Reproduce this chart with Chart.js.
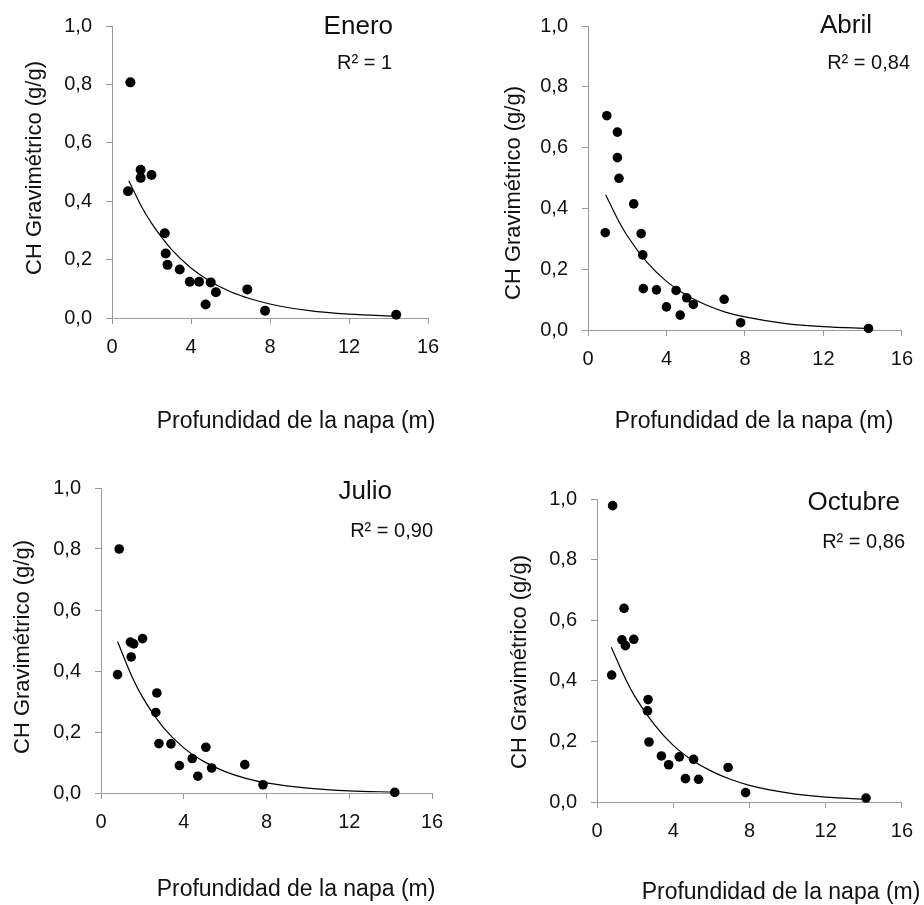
<!DOCTYPE html>
<html>
<head>
<meta charset="utf-8">
<script src="https://cdn.jsdelivr.net/npm/chart.js@4.4.0/dist/chart.umd.min.js"></script>
<style>
  body { margin: 0; background: #fff; width: 924px; height: 905px; position: relative; overflow: hidden; }
  canvas { position: absolute; }
</style>
</head>
<body>
<canvas id="enero" width="462" height="450" style="left:0;top:0"></canvas>
<canvas id="abril" width="462" height="450" style="left:462px;top:0"></canvas>
<canvas id="julio" width="462" height="455" style="left:0;top:450px"></canvas>
<canvas id="octubre" width="462" height="455" style="left:462px;top:450px"></canvas>
<script>
// profundidad de la napa (m) y CH gravimetrico (g/g)
const eneroProf = [0.93, 0.81, 1.45, 1.45, 2.0, 2.67, 2.72, 2.81, 3.43, 3.94, 4.41, 5.0, 5.26, 4.74, 6.85, 7.75, 14.39];
const eneroCH   = [0.807, 0.434, 0.508, 0.48, 0.49, 0.29, 0.221, 0.182, 0.166, 0.124, 0.124, 0.122, 0.088, 0.046, 0.098, 0.025, 0.011];

const abrilProf = [0.96, 1.5, 1.5, 1.58, 2.33, 0.88, 2.71, 2.79, 2.82, 3.49, 4.0, 4.49, 4.7, 5.03, 5.37, 6.94, 7.78, 14.3];
const abrilCH   = [0.705, 0.651, 0.567, 0.499, 0.415, 0.32, 0.317, 0.247, 0.136, 0.132, 0.076, 0.13, 0.049, 0.106, 0.084, 0.101, 0.024, 0.005];

const julioProf = [0.88, 0.8, 1.42, 1.58, 1.46, 2.01, 2.7, 2.65, 2.8, 3.38, 3.79, 4.41, 5.07, 4.68, 5.35, 6.95, 7.83, 14.2];
const julioCH   = [0.8, 0.388, 0.495, 0.489, 0.446, 0.506, 0.328, 0.264, 0.162, 0.161, 0.09, 0.113, 0.15, 0.055, 0.082, 0.093, 0.027, 0.002];

const octubreProf = [0.82, 0.77, 1.42, 1.31, 1.49, 1.93, 2.68, 2.65, 2.73, 3.38, 3.76, 4.32, 5.07, 4.64, 5.33, 6.88, 7.8, 14.12];
const octubreCH   = [0.978, 0.419, 0.639, 0.535, 0.516, 0.537, 0.338, 0.301, 0.198, 0.152, 0.123, 0.149, 0.141, 0.077, 0.075, 0.114, 0.031, 0.013];

// curvas de ajuste, leidas punto a punto
const eneroTrendX   = [0.85, 1.5, 2, 3, 4, 5, 6, 7, 8, 10, 12, 14.4];
const eneroTrendY   = [0.470, 0.381, 0.325, 0.236, 0.171, 0.124, 0.090, 0.066, 0.048, 0.025, 0.013, 0.006];
const abrilTrendX   = [0.9, 1.5, 2, 3, 4, 5, 6, 7, 8, 10, 12, 14.3];
const abrilTrendY   = [0.445, 0.366, 0.310, 0.223, 0.160, 0.115, 0.083, 0.059, 0.043, 0.022, 0.011, 0.005];
const julioTrendX   = [0.8, 1.5, 2, 3, 4, 5, 6, 7, 8, 10, 12, 14.2];
const julioTrendY   = [0.497, 0.381, 0.315, 0.216, 0.148, 0.102, 0.070, 0.048, 0.033, 0.016, 0.007, 0.003];
const octubreTrendX = [0.75, 1.5, 2, 3, 4, 5, 6, 7, 8, 10, 12, 14.1];
const octubreTrendY = [0.511, 0.406, 0.347, 0.256, 0.187, 0.138, 0.102, 0.075, 0.055, 0.030, 0.016, 0.009];

const xTicks = [0, 4, 8, 12, 16];
const yTicks = [0, 0.2, 0.4, 0.6, 0.8, 1.0];

const FONT = "'Liberation Sans', Arial, sans-serif";
const AXIS = "#9a9a9a";
const INK = "#111";

function pts(xs, ys) {
  return xs.map((x, i) => ({ x: x, y: ys[i] }));
}

function textPlugin(t) {
  return {
    id: "textos",
    afterDraw(chart) {
      const ctx = chart.ctx;
      ctx.save();
      ctx.fillStyle = INK;
      ctx.textBaseline = "middle";

      ctx.font = "26px " + FONT;
      ctx.textAlign = "right";
      ctx.fillText(t.month, t.monthX, t.monthY);

      ctx.font = "20px " + FONT;
      ctx.fillText(t.r2, t.r2X, t.r2Y);

      ctx.font = "23px " + FONT;
      ctx.textAlign = "center";
      ctx.fillText("Profundidad de la napa (m)", t.xtX, t.xtY);

      ctx.font = "22px " + FONT;
      ctx.translate(t.ytX, t.ytY);
      ctx.rotate(-Math.PI / 2);
      ctx.fillText("CH Gravimétrico (g/g)", 0, 0);
      ctx.restore();
    }
  };
}

function makePanel(id, xs, ys, tx, ty, lay, t) {
  return new Chart(document.getElementById(id), {
    type: "scatter",
    data: {
      datasets: [
        {
          data: pts(xs, ys),
          backgroundColor: "#000",
          borderColor: "#000",
          borderWidth: 0,
          pointRadius: lay.r,
          clip: false
        },
        {
          type: "line",
          data: pts(tx, ty),
          borderColor: "#000",
          borderWidth: 1.2,
          pointRadius: 0,
          cubicInterpolationMode: "monotone",
          fill: false,
          clip: false
        }
      ]
    },
    options: {
      responsive: false,
      animation: false,
      layout: { padding: { left: 0, right: lay.right, top: lay.top, bottom: lay.bottom } },
      plugins: { legend: { display: false }, tooltip: { enabled: false } },
      scales: {
        x: {
          type: "linear",
          min: 0,
          max: 16,
          afterBuildTicks: s => { s.ticks = xTicks.map(v => ({ value: v })); },
          ticks: { font: { family: FONT, size: 20 }, color: INK, padding: 11, maxRotation: 0 },
          grid: { drawOnChartArea: false, tickLength: 6, color: AXIS },
          border: { color: AXIS, width: 1 },
          afterFit: s => { s.height = 44; }
        },
        y: {
          min: 0,
          max: 1,
          afterBuildTicks: s => { s.ticks = yTicks.map(v => ({ value: v })); },
          ticks: {
            font: { family: FONT, size: 20 },
            color: INK,
            padding: 14,
            callback: v => v.toFixed(1).replace(".", ",")
          },
          grid: { drawOnChartArea: false, tickLength: 6, color: AXIS },
          border: { color: AXIS, width: 1 },
          afterFit: s => { s.width = lay.left; }
        }
      }
    },
    plugins: [textPlugin(t)]
  });
}

makePanel("enero", eneroProf, eneroCH, eneroTrendX, eneroTrendY,
  { left: 112, right: 34, top: 17, bottom: 88, r: 5 },
  { month: "Enero", monthX: 393, monthY: 27, r2: "R² = 1", r2X: 392, r2Y: 63, xtX: 296, xtY: 422, ytX: 35, ytY: 168 });

makePanel("abril", abrilProf, abrilCH, abrilTrendX, abrilTrendY,
  { left: 126, right: 15, top: 23, bottom: 76, r: 4.8 },
  { month: "Abril", monthX: 410, monthY: 26, r2: "R² = 0,84", r2X: 448, r2Y: 63, xtX: 292, xtY: 422, ytX: 52, ytY: 193 });

makePanel("julio", julioProf, julioCH, julioTrendX, julioTrendY,
  { left: 101, right: 30, top: 38, bottom: 68, r: 4.8 },
  { month: "Julio", monthX: 392, monthY: 42, r2: "R² = 0,90", r2X: 433, r2Y: 81, xtX: 296, xtY: 440, ytX: 23, ytY: 197 });

makePanel("octubre", octubreProf, octubreCH, octubreTrendX, octubreTrendY,
  { left: 135, right: 15, top: 49, bottom: 59, r: 4.8 },
  { month: "Octubre", monthX: 438, monthY: 53, r2: "R² = 0,86", r2X: 443, r2Y: 92, xtX: 319, xtY: 443, ytX: 58, ytY: 212 });
</script>
</body>
</html>
